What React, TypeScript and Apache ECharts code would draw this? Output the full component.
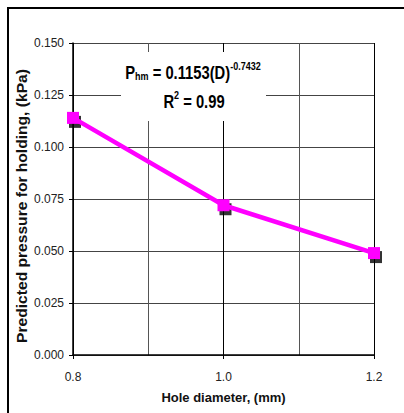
import React, { useEffect, useRef } from "react";
import * as echarts from "echarts";

const diameters = [0.8, 1.0, 1.2];
const predicted = [0.114, 0.072, 0.049];
const measured = [0.114, 0.072, 0.049];
const xLabelTicks = [0.8, 1.0, 1.2];
const yTicks = [0, 0.025, 0.05, 0.075, 0.1, 0.125, 0.15];
const xName = "Hole diameter, (mm)";
const yName = "Predicted pressure for holding, (kPa)";

export default function App() {
  const ref = useRef<HTMLDivElement>(null);
  useEffect(() => {
    if (!ref.current) return;
    const chart = echarts.init(ref.current, null, { renderer: "svg" });
    const font = "'Liberation Sans', Arial, sans-serif";
    chart.setOption({
      animation: false,
      backgroundColor: "#fff",
      grid: { left: 73, right: 30, top: 43, bottom: 58, containLabel: false },
      xAxis: {
        type: "value",
        min: xLabelTicks[0],
        max: xLabelTicks[xLabelTicks.length - 1],
        interval: 0.2,
        name: xName,
        nameLocation: "middle",
        nameGap: 36,
        nameTextStyle: { fontFamily: font, fontWeight: "bold", fontSize: 13, color: "#111" },
        axisLine: { show: true, lineStyle: { color: "#000", width: 1.5 } },
        axisTick: { show: true, inside: false, length: 4, lineStyle: { color: "#000" } },
        axisLabel: {
          margin: 16,
          fontFamily: font,
          fontSize: 12,
          color: "#222",
          formatter: (v: number) => v.toFixed(1),
        },
        splitLine: { show: true, lineStyle: { color: "#000", width: 1 } },
        minorTick: { show: false, splitNumber: 2 },
        minorSplitLine: { show: true, lineStyle: { color: "#555", width: 1 } },
      },
      yAxis: {
        type: "value",
        min: yTicks[0],
        max: yTicks[yTicks.length - 1],
        interval: 0.025,
        axisLine: { show: true, lineStyle: { color: "#000", width: 1.5 } },
        axisTick: { show: true, inside: false, length: 4, lineStyle: { color: "#000" } },
        axisLabel: {
          margin: 9,
          fontFamily: font,
          fontSize: 12,
          color: "#222",
          formatter: (v: number) => v.toFixed(3),
        },
        splitLine: { show: true, lineStyle: { color: "#444", width: 1 } },
      },
      series: [
        {
          name: "Measured",
          type: "scatter",
          data: diameters.map((d, i) => [d, measured[i]]),
          symbol: "rect",
          symbolSize: 12,
          symbolOffset: [2, 4],
          itemStyle: { color: "#000" },
          z: 2,
        },
        {
          name: "Predicted",
          type: "line",
          data: diameters.map((d, i) => [d, predicted[i]]),
          symbol: "rect",
          symbolSize: 12,
          showSymbol: true,
          lineStyle: { color: "#ff00ff", width: 4.5 },
          itemStyle: { color: "#ff00ff" },
          z: 3,
        },
      ],
      graphic: [
        {
          type: "polyline",
          shape: { points: [[8, 440], [8, 8], [440, 8]] },
          style: { fill: "none", stroke: "#000", lineWidth: 2 },
          silent: true,
          z: 10,
        },
        {
          type: "rect",
          shape: { x: 121, y: 52, width: 145, height: 69 },
          style: { fill: "#fff" },
          z: 5,
        },
        {
          type: "text",
          x: 193,
          y: 72,
          scaleX: 0.82,
          z: 6,
          style: {
            text: "{b|P}{sub|hm}{b| = 0.1153(D)}{sup|-0.7432}",
            align: "center",
            verticalAlign: "middle",
            rich: {
              b: { fontFamily: font, fontWeight: "bold", fontSize: 18, fill: "#000", lineHeight: 22, verticalAlign: "middle" },
              sub: { fontFamily: font, fontWeight: "bold", fontSize: 11, fill: "#000", lineHeight: 11, verticalAlign: "bottom", padding: [0, 0, 1, 0] },
              sup: { fontFamily: font, fontWeight: "bold", fontSize: 11, fill: "#000", lineHeight: 11, verticalAlign: "top" },
            },
          },
        },
        {
          type: "text",
          x: 194,
          y: 101,
          scaleX: 0.82,
          z: 6,
          style: {
            text: "{b|R}{sup|2}{b| = 0.99}",
            align: "center",
            verticalAlign: "middle",
            rich: {
              b: { fontFamily: font, fontWeight: "bold", fontSize: 18, fill: "#000", lineHeight: 22, verticalAlign: "middle" },
              sup: { fontFamily: font, fontWeight: "bold", fontSize: 11, fill: "#000", lineHeight: 11, verticalAlign: "top" },
            },
          },
        },
        {
          type: "text",
          x: 22,
          y: 206,
          rotation: Math.PI / 2,
          scaleX: 1.04,
          z: 6,
          style: {
            text: yName,
            fontFamily: font,
            fontWeight: "bold",
            fontSize: 15,
            fill: "#111",
            align: "center",
            verticalAlign: "middle",
          },
        },
      ],
    });
    return () => chart.dispose();
  }, []);
  return (
    <div
      ref={ref}
      style={{ position: "absolute", left: 0, top: 0, width: 404, height: 413 }}
    />
  );
}
